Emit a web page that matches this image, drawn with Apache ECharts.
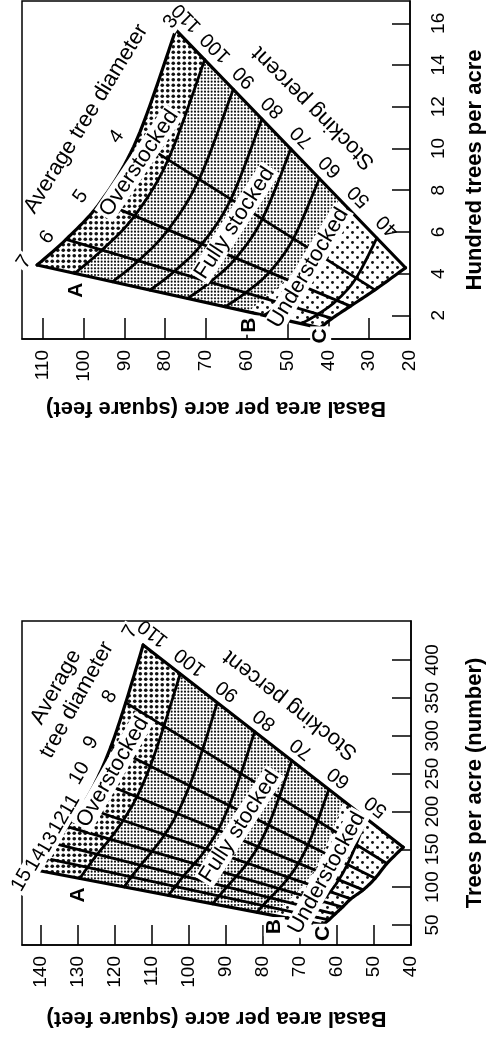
<!DOCTYPE html>
<html>
<head>
<meta charset="utf-8">
<script src="https://cdn.jsdelivr.net/npm/echarts@6/dist/echarts.min.js"></script>
<style>
  html, body { margin: 0; padding: 0; background: #fff; }
  #chart { width: 494px; height: 1037px; }
</style>
</head>
<body>
<div id="chart"></div>
<script>
// ---------- Upper chart: trees counted in hundreds per acre ----------
const upperDiameters = [3, 4, 5, 6, 7];
const upperStockingLevels = [110, 100, 90, 80, 70, 60, 50, 40];
// hundreds of trees per acre; rows follow upperStockingLevels, columns follow upperDiameters
const upperTrees = [
  [15.69, 10.41, 7.45, 5.64, 4.41],
  [14.26, 9.46, 6.77, 5.13, 4.01],
  [12.84, 8.52, 6.10, 4.61, 3.61],
  [11.41, 7.57, 5.42, 4.10, 3.21],
  [9.98, 6.62, 4.74, 3.59, 2.81],
  [8.56, 5.68, 4.06, 3.08, 2.41],
  [7.13, 4.73, 3.39, 2.56, 2.00],
  [5.71, 3.79, 2.71, 2.05, 1.60]
];
// basal area per acre (sq ft) at the same grid crossings
const upperBasal = [
  [77.4, 87.0, 95.8, 104.3, 111.4],
  [70.3, 79.3, 87.5, 95.5, 102.2],
  [63.3, 71.7, 79.3, 86.6, 92.9],
  [56.3, 63.9, 71.0, 77.8, 83.7],
  [49.2, 56.2, 62.7, 69.0, 74.5],
  [42.2, 48.6, 54.5, 60.3, 65.3],
  [35.2, 40.9, 46.3, 51.3, 55.8],
  [28.1, 33.2, 38.0, 42.6, 46.6]
];
// B line (lower limit of full stocking) and C line (lower edge of the chart)
const upperBLineTrees = [7.56, 5.11, 3.72, 2.82, 2.16];
const upperBLineBasal = [37.3, 43.9, 50.3, 55.8, 59.5];
const upperCLineTrees = [4.28, 3.22, 2.44, 1.85, 1.40];
const upperCLineBasal = [21.1, 28.6, 34.6, 39.1, 42.0];
const upperTreeTicks = [2, 4, 6, 8, 10, 12, 14, 16];
const upperBasalTicks = [20, 30, 40, 50, 60, 70, 80, 90, 100, 110];

// ---------- Lower chart: trees per acre ----------
const lowerDiameters = [7, 8, 9, 10, 11, 12, 13, 14, 15];
const lowerStockingLevels = [110, 100, 90, 80, 70, 60, 50];
const lowerTrees = [
  [419.8, 343.7, 285.6, 241.1, 206.9, 179.9, 157.7, 138.7, 122.6],
  [381.6, 312.5, 259.6, 219.2, 188.1, 163.5, 143.4, 126.1, 111.5],
  [343.5, 281.2, 233.7, 197.3, 169.3, 147.2, 129.0, 113.5, 100.3],
  [305.3, 250.0, 207.7, 175.3, 150.5, 130.8, 114.7, 100.9, 89.2],
  [267.1, 218.7, 181.7, 153.4, 131.7, 114.5, 100.4, 88.3, 78.0],
  [229.0, 187.5, 155.8, 131.5, 112.9, 98.1, 86.0, 75.7, 66.9],
  [190.8, 156.2, 129.8, 109.6, 94.0, 81.8, 71.7, 63.0, 55.7]
];
const lowerBasal = [
  [112.3, 117.0, 121.0, 124.9, 128.8, 132.8, 136.4, 139.1, 141.3],
  [102.3, 106.7, 110.4, 114.0, 117.7, 121.3, 124.7, 127.3, 129.4],
  [92.3, 96.3, 99.8, 103.1, 106.5, 109.9, 113.0, 115.5, 117.4],
  [82.2, 85.9, 89.1, 92.1, 95.3, 98.5, 101.4, 103.6, 105.5],
  [72.2, 75.6, 78.5, 81.3, 84.2, 87.1, 89.7, 91.8, 93.5],
  [62.2, 65.2, 67.8, 70.4, 73.0, 75.6, 78.0, 80.0, 81.6],
  [52.1, 54.8, 57.2, 59.5, 61.8, 64.2, 66.4, 68.1, 69.7]
];
const lowerBLineTrees = [213.7, 175.0, 145.4, 122.7, 105.3, 91.6, 80.3, 70.6, 62.4];
const lowerBLineBasal = [58.2, 61.1, 63.6, 66.0, 68.5, 71.0, 73.4, 75.2, 76.8];
const lowerCLineTrees = [152.7, 131.2, 111.6, 96.4, 84.6, 73.6, 64.5, 56.7, 50.2];
const lowerCLineBasal = [42.1, 46.5, 49.7, 52.9, 56.2, 58.5, 60.5, 62.2, 63.8];
const lowerTreeTicks = [50, 100, 150, 200, 250, 300, 350, 400];
const lowerBasalTicks = [40, 50, 60, 70, 80, 90, 100, 110, 120, 130, 140];

// ---------- styling ----------
const FONT = '"Liberation Sans", Arial, Helvetica, sans-serif';

function dotTile(size, dots, r) {
  const c = document.createElement('canvas');
  c.width = size; c.height = size;
  const g = c.getContext('2d');
  g.fillStyle = '#fff';
  g.fillRect(0, 0, size, size);
  g.fillStyle = '#111';
  dots.forEach(([x, y]) => { g.beginPath(); g.arc(x, y, r, 0, Math.PI * 2); g.fill(); });
  return { image: c, repeat: 'repeat' };
}
const overFill = dotTile(11, [[2.75, 2.75], [8.25, 2.75], [2.75, 8.25], [8.25, 8.25]], 1.8);
const fullFill = dotTile(10, [[1.67, 1.67], [5, 1.67], [8.33, 1.67], [1.67, 5], [5, 5], [8.33, 5], [1.67, 8.33], [5, 8.33], [8.33, 8.33]], 1.05);
const underFill = dotTile(10, [[2.5, 2.5], [7.5, 7.5]], 1.45);

// smooth curve through pixel points (Catmull-Rom)
function curveThrough(pts, steps) {
  if (pts.length < 3) return pts.map(p => p.slice());
  const out = [];
  for (let i = 0; i < pts.length - 1; i++) {
    const p0 = pts[Math.max(i - 1, 0)], p1 = pts[i], p2 = pts[i + 1], p3 = pts[Math.min(i + 2, pts.length - 1)];
    for (let s = 0; s < steps; s++) {
      const t = s / steps, t2 = t * t, t3 = t2 * t;
      out.push([0, 1].map(k => 0.5 * (2 * p1[k] + (p2[k] - p0[k]) * t +
        (2 * p0[k] - 5 * p1[k] + 4 * p2[k] - p3[k]) * t2 +
        (3 * p1[k] - p0[k] - 3 * p2[k] + p3[k]) * t3)));
    }
  }
  out.push(pts[pts.length - 1].slice());
  return out;
}

function note(x, y, text, deg, size, bold, box) {
  return {
    type: 'text', x, y, rotation: deg * Math.PI / 180, z2: 20,
    style: {
      text, x: 0, y: 0, align: 'center', verticalAlign: 'middle', fill: '#000',
      font: (bold ? 'bold ' : '') + size + 'px ' + FONT,
      backgroundColor: box ? '#fff' : null, padding: box ? [0, 2] : 0
    }
  };
}

function stockingLayer(cfg) {
  return function (params, api) {
    const at = (b, t) => api.coord([b, t]);
    const rows = cfg.trees.map((row, i) => row.map((n, j) => at(cfg.basal[i][j], n)));
    const bRow = cfg.bTrees.map((n, j) => at(cfg.bBasal[j], n));
    const cRow = cfg.cTrees.map((n, j) => at(cfg.cBasal[j], n));
    const sm = pts => curveThrough(pts, 12);
    const s110 = sm(rows[0]), s100 = sm(rows[1]), sB = sm(bRow), sC = sm(cRow);
    const kids = [];
    const zone = (a, b, fill) => kids.push({
      type: 'polygon', z2: 1,
      shape: { points: a.concat(b.slice().reverse()) },
      style: { fill, stroke: null }
    });
    zone(s110, s100, overFill);
    zone(s100, sB, fullFill);
    zone(sB, sC, underFill);
    const line = (pts, w) => kids.push({
      type: 'polyline', z2: 10, shape: { points: pts },
      style: { stroke: '#000', lineWidth: w, fill: null, lineJoin: 'round', lineCap: 'round' }
    });
    rows.forEach((r, i) => line(sm(r), i === 0 ? 3.2 : 2.8));
    line(sC, 3.2);
    const last = cfg.diameters.length - 1;
    cfg.diameters.forEach((d, j) => line([rows[0][j], cRow[j]], (j === 0 || j === last) ? 3.2 : 2.8));

    cfg.diameters.forEach((d, j) => {
      const p = rows[0][j], o = cfg.diameterShift[j];
      kids.push(note(p[0] + o[0], p[1] + o[1], String(d), cfg.diameterAngle, 20, false, true));
    });
    cfg.levels.forEach((s, i) => {
      const p = rows[i][0];
      kids.push(note(p[0] + cfg.levelShift[0], p[1] + cfg.levelShift[1], String(s), cfg.levelAngle, 20, false, false));
    });
    cfg.notes.forEach(n => {
      const p = at(n.at[0], n.at[1]);
      kids.push(note(p[0], p[1], n.text, n.angle, n.size, n.bold, n.box));
    });
    return { type: 'group', children: kids };
  };
}

const upperLayout = {
  diameters: upperDiameters, levels: upperStockingLevels,
  trees: upperTrees, basal: upperBasal,
  bTrees: upperBLineTrees, bBasal: upperBLineBasal,
  cTrees: upperCLineTrees, cBasal: upperCLineBasal,
  diameterShift: [[-5, -8], [-20, -3], [-20, -5], [-19, -2], [-13, -3]],
  diameterAngle: 55,
  levelShift: [11, -12], levelAngle: 135,
  notes: [
    { text: 'Average tree diameter', at: [99.4, 11.41], angle: 58.5, size: 22 },
    { text: 'Stocking percent', at: [43.7, 11.94], angle: 135, size: 22 },
    { text: 'Overstocked', at: [86.4, 9.30], angle: 56, size: 22, box: true },
    { text: 'Fully stocked', at: [62.96, 6.42], angle: 57, size: 22, box: true },
    { text: 'Understocked', at: [44.9, 4.27], angle: 59, size: 22, box: true },
    { text: 'A', at: [101.7, 3.21], angle: 90, size: 21, bold: true, box: true },
    { text: 'B', at: [59.3, 1.53], angle: 90, size: 21, bold: true, box: true },
    { text: 'C', at: [41.9, 1.01], angle: 90, size: 21, bold: true, box: true }
  ]
};

const lowerLayout = {
  diameters: lowerDiameters, levels: lowerStockingLevels,
  trees: lowerTrees, basal: lowerBasal,
  bTrees: lowerBLineTrees, bBasal: lowerBLineBasal,
  cTrees: lowerCLineTrees, cBasal: lowerCLineBasal,
  diameterShift: [[-13, -13], [-16, -6], [-20, -4], [-17, -7], [-12, -1], [-8, -4], [-6, 0], [-8, 2], [-14, 10]],
  diameterAngle: 60,
  levelShift: [10, -12], levelAngle: 142,
  notes: [
    { text: 'Average', at: [135.8, 364.3], angle: 61, size: 22 },
    { text: 'tree diameter', at: [130.2, 347.2], angle: 61, size: 22 },
    { text: 'Stocking percent', at: [72.6, 340.6], angle: 142, size: 22 },
    { text: 'Overstocked', at: [120.5, 252], angle: 60, size: 22, box: true },
    { text: 'Fully stocked', at: [86.3, 180.1], angle: 57, size: 22, box: true },
    { text: 'Understocked', at: [62.7, 118.7], angle: 61, size: 22, box: true },
    { text: 'A', at: [129.8, 89.6], angle: 90, size: 21, bold: true, box: true },
    { text: 'B', at: [76.9, 47.8], angle: 90, size: 21, bold: true, box: true },
    { text: 'C', at: [63.6, 39], angle: 90, size: 21, bold: true, box: true }
  ]
};

function basalAxis(gridIndex, min, max, ticks, nameGap, tickLen) {
  return {
    type: 'value', gridIndex, min, max, inverse: true, position: 'bottom',
    name: 'Basal area per acre (square feet)', nameLocation: 'middle', nameGap, nameRotate: 180,
    nameMoveOverlap: false,
    nameTextStyle: { fontFamily: FONT, fontWeight: 'bold', fontSize: 22, color: '#000' },
    axisLine: { show: true, onZero: false, lineStyle: { color: '#000', width: 1.5 } },
    axisTick: { show: true, inside: true, length: tickLen, customValues: ticks, lineStyle: { color: '#000', width: 1.5 } },
    axisLabel: { show: true, customValues: ticks, rotate: 90, margin: 11, fontFamily: FONT, fontSize: 19, color: '#000' },
    splitLine: { show: false }
  };
}

function treeAxis(gridIndex, min, max, ticks, name, margin, tickLen, nameGap) {
  return {
    type: 'value', gridIndex, min, max, position: 'right',
    name, nameLocation: 'middle', nameGap, nameRotate: 90,
    nameMoveOverlap: false,
    nameTextStyle: { fontFamily: FONT, fontWeight: 'bold', fontSize: 22, color: '#000' },
    axisLine: { show: true, onZero: false, lineStyle: { color: '#000', width: 1.5 } },
    axisTick: { show: true, inside: true, length: tickLen, customValues: ticks, lineStyle: { color: '#000', width: 1.5 } },
    axisLabel: { show: true, customValues: ticks, rotate: 90, margin, fontFamily: FONT, fontSize: 19, color: '#000' },
    splitLine: { show: false }
  };
}

const chart = echarts.init(document.getElementById('chart'), null, { renderer: 'canvas' });
chart.setOption({
  animation: false,
  backgroundColor: '#fff',
  textStyle: { fontFamily: FONT },
  grid: [
    { left: 22, top: 1, width: 410, height: 338, show: true, borderColor: '#000', borderWidth: 1.5, backgroundColor: 'transparent' },
    { left: 22, top: 621, width: 410, height: 324, show: true, borderColor: '#000', borderWidth: 1.5, backgroundColor: 'transparent' }
  ],
  xAxis: [
    basalAxis(0, 20, 115.1, upperBasalTicks, 58, 21),
    basalAxis(1, 40, 145.0, lowerBasalTicks, 62, 20)
  ],
  yAxis: [
    treeAxis(0, 0.864, 17.07, upperTreeTicks, 'Hundred trees per acre', 19, 18, 54),
    treeAxis(1, 23.6, 451.5, lowerTreeTicks, 'Trees per acre (number)', 12, 19, 53)
  ],
  series: [
    { type: 'custom', coordinateSystem: 'cartesian2d', xAxisIndex: 0, yAxisIndex: 0, data: [[60, 5]], clip: false, silent: true, renderItem: stockingLayer(upperLayout) },
    { type: 'custom', coordinateSystem: 'cartesian2d', xAxisIndex: 1, yAxisIndex: 1, data: [[80, 200]], clip: false, silent: true, renderItem: stockingLayer(lowerLayout) }
  ]
});
</script>
</body>
</html>
